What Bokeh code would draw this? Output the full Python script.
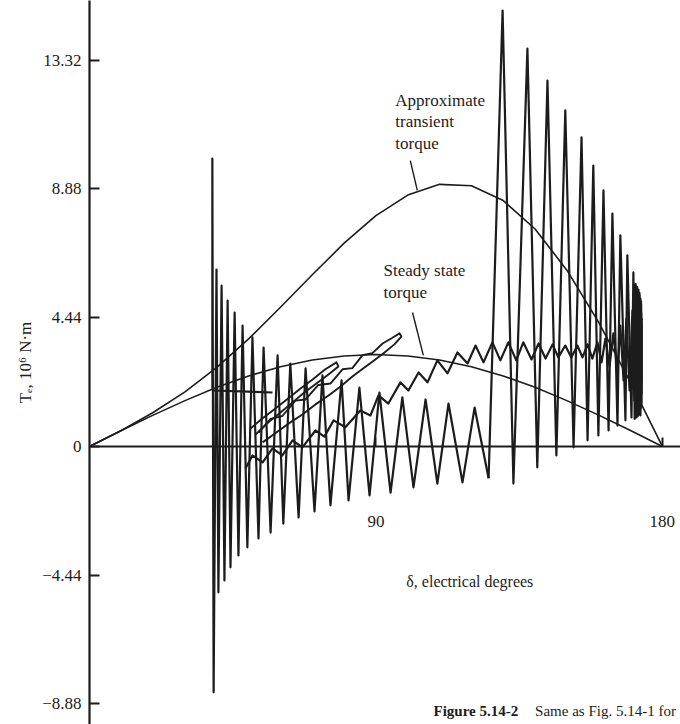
from bokeh.plotting import figure
from bokeh.models import FixedTicker, Label, Range1d
from bokeh.embed import file_html
from bokeh.resources import INLINE

SERIF = "Liberation Serif"
INK = "#1c1c1c"

# ---- axes / ticks ----
y_ticks = [-8.88, -4.44, 0, 4.44, 8.88, 13.32]
y_tick_labels = ["\u22128.88", "\u22124.44", "0", "4.44", "8.88", "13.32"]
x_ticks = [90, 180]
x_tick_labels = ["90", "180"]

# ---- steady state torque curve ----
ss_deg = [0, 10, 20, 30, 40, 50, 60, 70, 80, 90, 100, 110, 120, 130, 140, 150, 160, 170, 180]
ss_te = [0, 0.55, 1.08, 1.58, 2.04, 2.43, 2.75, 2.98, 3.12, 3.17, 3.12, 2.98, 2.75, 2.43, 2.04, 1.58, 1.08, 0.55, 0]

# ---- approximate transient torque curve ----
tr_deg = [0, 10, 20, 30, 40, 50, 60, 70, 80, 90, 100, 110, 120, 130, 140, 150, 160, 170, 180]
tr_te = [0, 0.55, 1.17, 1.88, 2.73, 3.71, 4.80, 5.92, 7.01, 7.96, 8.67, 9.04, 8.99, 8.48, 7.50, 6.08, 4.28, 2.21, 0]

# ---- torque trajectory during the fault ----
fault_deg = [38.6, 38.6, 39.0, 39.9, 40.5, 41.5, 42.4, 43.4, 44.3, 45.6, 46.8, 48.1, 49.6, 51.2,
             53.1, 54.7, 56.9, 59.1, 60.9, 63.1, 65.7, 67.9, 70.7, 73.2, 75.7, 79.2, 81.4, 84.8,
             88.0, 91.1, 94.6, 98.3, 101.8, 105.6, 109.3, 112.8, 117.2, 121.0, 125.4]
fault_te = [2.0, 9.93, -8.48, 6.10, -5.03, 5.55, -4.62, 5.03, -4.17, 4.62, -3.76, 4.17, -3.48, 3.76,
            -3.17, 3.41, -2.97, 3.14, -2.66, 2.86, -2.45, 2.69, -2.24, 2.45, -2.03, 2.28, -1.86, 2.03,
            -1.69, 1.86, -1.59, 1.69, -1.41, 1.62, -1.28, 1.48, -1.24, 1.34, -1.10]

# ---- torque trajectory after clearing ----
clear_deg = [125.4, 129.8, 133.2, 137.6, 140.7, 143.9, 146.7, 149.5, 152.1, 154.6, 156.5, 158.3,
             159.9, 161.5, 163.1, 164.3, 165.9, 166.8, 168.4, 169.0, 170.3, 170.9, 171.3, 171.6,
             171.9, 172.1, 172.3, 172.5, 172.7, 172.8, 173.0, 173.1, 173.2, 173.3, 173.4, 173.4,
             173.5, 173.5, 173.4, 173.3]
clear_te = [-1.10, 15.03, -1.28, 13.72, -0.72, 12.62, -0.31, 11.59, -0.03, 10.66, 0.21, 9.69,
            0.38, 8.83, 0.55, 8.03, 0.72, 7.28, 0.90, 6.59, 1.00, 6.00, 0.95, 5.60,
            1.00, 5.50, 1.05, 5.40, 1.10, 5.30, 1.20, 5.10, 1.30, 4.90, 1.50, 4.60,
            1.80, 4.20, 2.30, 3.60]

# ---- second trajectory (wavy, rising to the steady-state level) ----
wave_deg = [49.0, 51.2, 54.4, 57.5, 60.6, 63.8, 66.9, 71.0, 73.8, 76.7, 80.4, 85.1, 88.3, 90.8,
            93.9, 97.7, 100.2, 103.4, 106.2, 109.3, 112.5, 115.6, 118.8, 121.3, 123.8, 126.6,
            129.1, 131.6, 134.1, 136.3, 138.9, 141.1, 143.3, 145.5, 147.3, 149.5, 151.4, 153.3,
            154.9, 156.5, 158.0, 159.6, 160.9, 162.1, 163.4, 164.6, 165.9, 166.8, 167.8, 168.7,
            169.7, 170.6, 171.2, 171.9, 172.5, 172.8, 173.1, 173.3, 173.4, 173.5, 173.5]
wave_te = [-0.76, -0.31, -0.55, -0.07, -0.31, 0.21, -0.03, 0.55, 0.34, 0.90, 0.66, 1.24, 1.07, 1.76,
           1.48, 2.21, 1.93, 2.55, 2.21, 2.97, 2.52, 3.24, 2.86, 3.48, 2.90, 3.59,
           2.97, 3.59, 2.97, 3.59, 3.00, 3.55, 3.03, 3.52, 3.07, 3.48, 3.07, 3.48,
           3.07, 3.52, 3.03, 3.59, 2.90, 3.72, 2.76, 3.90, 2.55, 4.17, 2.28, 4.41,
           1.93, 4.69, 1.59, 5.03, 1.24, 5.21, 1.07, 5.00, 1.40, 4.40, 2.20]

# ---- slow swing loops ----
loop1_deg = [53.1, 56.9, 60.6, 64.7, 67.9, 71.9, 75.7, 79.5, 82.6, 85.8, 88.9, 92.1, 95.2, 97.4,
             98.0, 95.8, 92.7, 89.5, 86.4, 82.6, 78.9, 75.1, 71.0, 66.9, 63.1, 58.7, 54.4]
loop1_te = [0.48, 0.95, 1.05, 1.58, 1.62, 2.12, 2.17, 2.66, 2.70, 3.15, 3.22, 3.55, 3.75, 3.90,
            3.79, 3.52, 3.24, 2.97, 2.72, 2.41, 2.07, 1.76, 1.45, 1.10, 0.83, 0.48, 0.14]
loop2_deg = [50.6, 54.4, 58.4, 62.5, 66.3, 70.1, 74.1, 77.6, 78.2, 75.1, 71.3, 67.5, 63.8, 60.0, 56.2, 52.2]
loop2_te = [0.62, 0.97, 1.31, 1.66, 2.00, 2.31, 2.66, 2.90, 2.76, 2.48, 2.17, 1.86, 1.52, 1.17, 0.83, 0.41]
flat_deg = [38.6, 57.5]
flat_te = [1.93, 1.86]

# ---- leader lines for the curve labels ----
lead_x0 = [100.8, 101.5]
lead_y0 = [9.86, 4.62]
lead_x1 = [103.0, 104.9]
lead_y1 = [8.83, 3.14]

p = figure(width=680, height=724, x_range=Range1d(0, 185.7), y_range=Range1d(-9.59, 15.38),
           output_backend="svg", toolbar_location=None,
           min_border_left=89, min_border_right=0, min_border_top=0, min_border_bottom=0)
p.outline_line_color = None
p.grid.visible = False
p.background_fill_color = "white"
p.border_fill_color = "white"

# y axis
ya = p.yaxis[0]
ya.ticker = FixedTicker(ticks=y_ticks)
ya.major_label_overrides = {t: l for t, l in zip(y_ticks, y_tick_labels)}
ya.major_tick_in = 10
ya.major_tick_out = 0
ya.minor_tick_line_color = None
ya.axis_line_width = 2.2
ya.major_tick_line_width = 2
ya.axis_line_color = INK
ya.major_tick_line_color = INK
ya.major_label_text_font = SERIF
ya.major_label_text_font_size = "17px"
ya.major_label_text_color = INK
ya.major_label_standoff = 8
ya.axis_label = "T\u2091, 10\u2076 N\u00b7m"
ya.axis_label_text_font = SERIF
ya.axis_label_text_font_size = "17px"
ya.axis_label_text_font_style = "normal"
ya.axis_label_text_color = INK
ya.axis_label_standoff = 4

# x axis through zero
xa = p.xaxis[0]
xa.fixed_location = 0
xa.ticker = FixedTicker(ticks=x_ticks)
xa.major_label_overrides = {t: l for t, l in zip(x_ticks, x_tick_labels)}
xa.major_tick_in = 9
xa.major_tick_out = 0
xa.minor_tick_line_color = None
xa.axis_line_width = 2.2
xa.major_tick_line_width = 2
xa.axis_line_color = INK
xa.major_tick_line_color = INK
xa.major_label_text_font = SERIF
xa.major_label_text_font_size = "17px"
xa.major_label_text_color = INK
xa.major_label_standoff = 70

# curves
p.line(ss_deg, ss_te, line_color=INK, line_width=1.6)
p.line(tr_deg, tr_te, line_color=INK, line_width=1.6)
p.line(fault_deg, fault_te, line_color=INK, line_width=2.2, line_join="round")
p.line(clear_deg, clear_te, line_color=INK, line_width=2.2, line_join="round")
p.line(wave_deg, wave_te, line_color=INK, line_width=2.2, line_join="round")
p.line(loop1_deg, loop1_te, line_color=INK, line_width=1.9, line_join="round")
p.line(loop2_deg, loop2_te, line_color=INK, line_width=1.9, line_join="round")
p.line(flat_deg, flat_te, line_color=INK, line_width=2.2)
p.segment(lead_x0, lead_y0, lead_x1, lead_y1, line_color=INK, line_width=1.4)

def lab(x, y, t, align="left", style="normal", size="17px"):
    p.add_layout(Label(x=x, y=y, text=t, text_font=SERIF, text_font_size=size,
                       text_color=INK, text_align=align, text_baseline="middle",
                       text_font_style=style))

lab(96.1, 11.93, "Approximate")
lab(96.1, 11.20, "transient")
lab(96.1, 10.45, "torque")
lab(92.4, 6.07, "Steady state")
lab(92.4, 5.31, "torque")
lab(119.5, -4.66, "\u03b4, electrical degrees", align="center", size="16px")
lab(108.1, -9.14, "Figure 5.14-2", style="bold", size="15px")
lab(140.0, -9.14, "Same as Fig. 5.14-1 for", size="15px")

open("out.html", "w").write(file_html(p, INLINE))
